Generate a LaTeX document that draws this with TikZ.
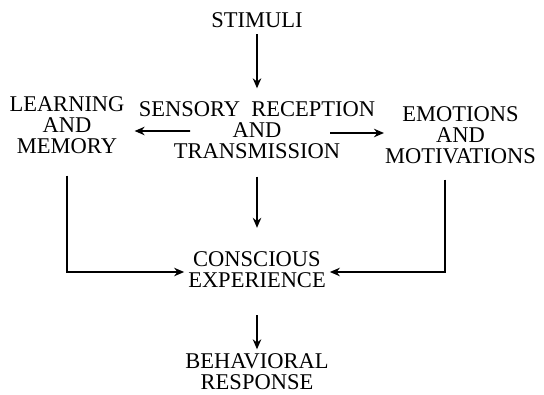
\documentclass[tikz,border=0pt]{standalone}
\usepackage{fontspec}
\setmainfont{Liberation Serif}
\usetikzlibrary{arrows.meta}
\usetikzlibrary{positioning}

\begin{document}
\begin{tikzpicture}[>={Stealth[length=10bp, width=8.5bp]}, line width=1.6bp, % Heavy printed strokes
	                    node distance = 2cm, on grid,                          % Node placement settings
	                    every node/.style={font=\fontsize{22.5bp}{21bp}\selectfont, align=center}]
	\useasboundingbox (0,0) rectangle (544bp,-395bp);
	\node (stim) at (257bp,-20.5bp) {STIMULI};
	\node (sens) [below=109.5bp of stim] {SENSORY\ \ RECEPTION\\AND\\TRANSMISSION};
	\node (learn) [above left=5bp and 190bp of sens] {LEARNING\\AND\\MEMORY};
	\node (emot) [below right=5bp and 203.5bp of sens] {EMOTIONS\\AND\\MOTIVATIONS};
	\node (cons) [below=140bp of sens] {CONSCIOUS\\EXPERIENCE};
	\node (behav) [below=101.5bp of cons] {BEHAVIORAL\\RESPONSE};
	\draw[->, shorten <=2bp, shorten >=9bp] (stim) -- (sens);
	\draw[->] ([shift={(-67bp,-1bp)}]sens.center) -- ([shift={(6bp,-6bp)}]learn.east);
	\draw[->] ([shift={(73bp,-3bp)}]sens.center) -- ([shift={(3bp,2bp)}]emot.west);
	\draw[->, shorten <=14bp, shorten >=20bp] (sens) -- (cons);
	\draw[->, shorten <=18bp] (learn.south) |- ([yshift=-2bp]cons.west);
	\draw[->, shorten <=12bp] ([xshift=-15.5bp]emot.south) |- ([yshift=-2bp]cons.east);
	\draw[->, shorten <=23bp] (cons) -- (behav);
	%\draw[->] (behav.south) -- ++(0,-1cm);                               % Nothing below the response
\end{tikzpicture}
\end{document}
